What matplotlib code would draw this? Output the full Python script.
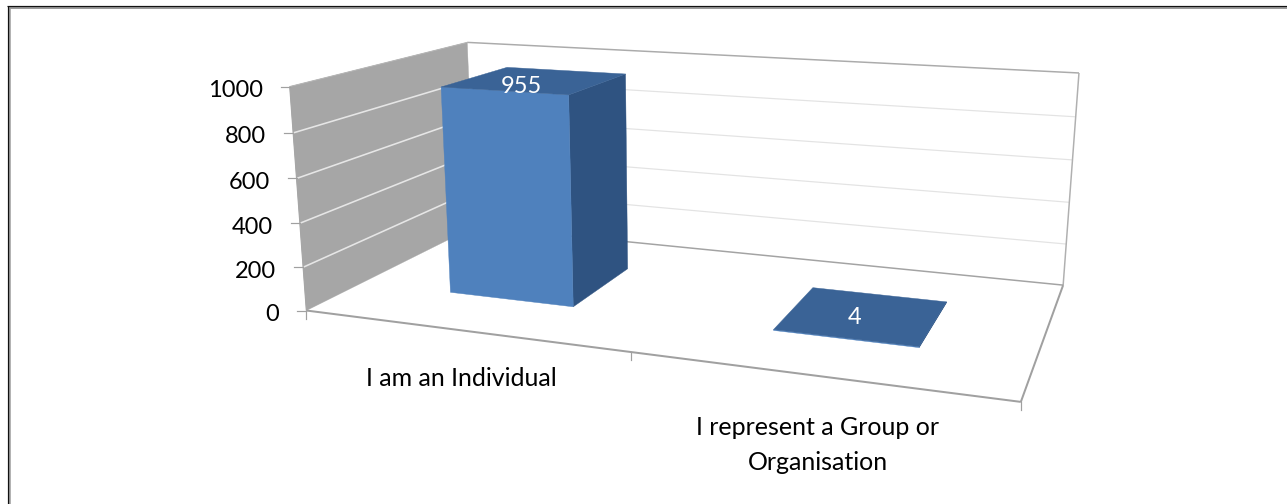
import numpy as np
import matplotlib
matplotlib.use("Agg")
import matplotlib.pyplot as plt
from matplotlib.patches import Polygon

plt.rcParams['font.family'] = ['Lato', 'DejaVu Sans']

categories = ["I am an Individual", "I represent a Group or\nOrganisation"]
values = [955, 4]
value_ticks = [0, 200, 400, 600, 800, 1000]
bar_half_width = 0.2
bar_front_depth = 0.295
bar_back_depth = 0.705

# Camera calibration of the 3-D box: (category, value, depth) -> figure pixel
calib_world = [(0,0,0),(2,0,0),(2,0,1),(0,0,1),(0,1000,1),(2,1000,1),(0,1000,0)]
calib_px = [(306,310),(1021,402),(1063,285),(475,227),(467,42),(1079,73),(290,87)]
rows = []
for (x, v, d), (u, w) in zip(calib_world, calib_px):
    X = [x, v/1000, d, 1]
    rows.append(X + [0,0,0,0] + [-u*c for c in X])
    rows.append([0,0,0,0] + X + [-w*c for c in X])
P = np.linalg.svd(np.array(rows, float))[2][-1].reshape(3, 4)

def proj(x, v, d):
    h = P @ np.array([x, v/1000, d, 1.0])
    return h[0]/h[2], h[1]/h[2]

fig = plt.figure(figsize=(12.87, 5.04), dpi=100)
ax = fig.add_axes([0, 0, 1, 1])
ax.set_xlim(0, 1287)
ax.set_ylim(504, 0)
ax.axis("off")

def px(n):  # line width given in pixels
    return n*72/100

def face(pts, color, z):
    ax.add_patch(Polygon([proj(*p) for p in pts], closed=True, fc=color, ec=color, lw=0.3, zorder=z))

def line(pts, color, lw, z=2):
    xy = np.array([proj(*p) for p in pts])
    ax.plot(xy[:,0], xy[:,1], color=color, lw=px(lw), zorder=z, solid_capstyle="butt")

vmax = value_ticks[-1]
# walls
face([(0,0,0),(0,0,1),(0,vmax,1),(0,vmax,0)], "#A6A6A6", 1)
for t in value_ticks[1:-1]:
    line([(0,t,0),(0,t,1)], "#E6E6E6", 1.6)
    line([(0,t,1),(2,t,1)], "#E3E3E3", 1.2)
line([(0,vmax,0),(0,vmax,1)], "#B5B5B5", 1.0)
line([(0,vmax,1),(2,vmax,1)], "#ABABAB", 1.5)
line([(2,vmax,1),(2,0,1)], "#B0B0B0", 1.5)
line([(0,0,0),(0,vmax,0)], "#A6A6A6", 1.2)
line([(0,0,1),(2,0,1)], "#A3A3A3", 1.5)
line([(0,0,0),(2,0,0)], "#A0A0A0", 2.0)
line([(2,0,0),(2,0,1)], "#A0A0A0", 2.0)

# axis ticks and labels
for t in value_ticks:
    u, w = proj(0, t, 0)
    ax.plot([u-9, u], [w, w], color="#A0A0A0", lw=px(1.2), zorder=2)
    ax.text(u-27, w+4, str(t), ha="right", va="center", fontsize=17, color="#000000")
for i in range(len(categories)+1):
    u, w = proj(i, 0, 0)
    ax.plot([u, u], [w, w+8], color="#A0A0A0", lw=px(1.2), zorder=2)
label_offsets = [(0, 48), (1, 69)]
for i, c in enumerate(categories):
    u, w = proj(i+0.5, 0, 0)
    ax.text(u+label_offsets[i][0], w+label_offsets[i][1], c, ha="center", va="center",
            fontsize=18, color="#000000", linespacing=1.62)

# bars
for i, val in enumerate(values):
    x0, x1 = i+0.5-bar_half_width, i+0.5+bar_half_width
    d0, d1 = bar_front_depth, bar_back_depth
    z = 5 + i
    face([(x1,0,d0),(x1,0,d1),(x1,val,d1),(x1,val,d0)], "#2F5381", z)
    face([(x0,0,d0),(x1,0,d0),(x1,val,d0),(x0,val,d0)], "#4F81BD", z)
    face([(x0,val,d0),(x1,val,d0),(x1,val,d1),(x0,val,d1)], "#3A6396", z)

value_offsets = [(-15, 6), (-8, 2)]
for i, val in enumerate(values):
    u, w = proj(i+0.5, val, (bar_front_depth+bar_back_depth)/2)
    ax.text(u+value_offsets[i][0], w+value_offsets[i][1], str(val), ha="center", va="center",
            fontsize=17, color="#FFFFFF", zorder=10)

# picture frame: top and left only
ax.plot([8.5, 8.5], [7, 504], color="#9A9A9A", lw=px(2.5), zorder=20, solid_capstyle="butt")
ax.plot([7.5, 7.5], [6, 504], color="#111111", lw=px(1.2), zorder=21, solid_capstyle="butt")
ax.plot([8, 1287], [7.8, 7.8], color="#9A9A9A", lw=px(2), zorder=20, solid_capstyle="butt")
ax.plot([7, 1287], [6.2, 6.2], color="#111111", lw=px(1.2), zorder=21, solid_capstyle="butt")

fig.savefig("out.png", dpi=100)
